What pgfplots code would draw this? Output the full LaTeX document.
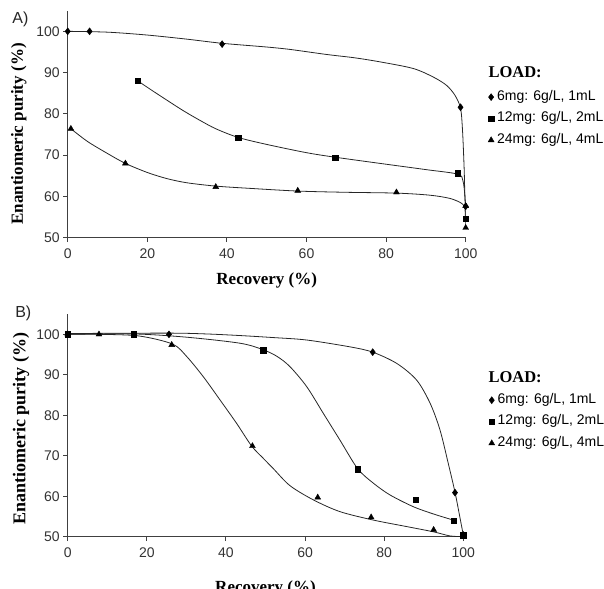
\documentclass[border=0pt]{standalone}
\usepackage{fontspec}
\setmainfont{Liberation Sans}
\newfontfamily\timesfont{Liberation Serif}
\usepackage{pgfplots}
\pgfplotsset{compat=1.18}
\pgfplotsset{
  panel/.style={
    scale only axis, xmin=0, xmax=100, ymin=50, ymax=105,
    axis lines=left, axis line style={-, line width=1.1pt, black!75},
    xtick={0,20,...,100}, ytick={50,60,...,100},
    tick align=outside, major tick length=4.5pt,
    tick style={line width=1pt, black!75},
    ticklabel style={font=\fontsize{14}{16}\selectfont, text=black!80},
    xticklabel style={yshift=-3pt},
    /pgf/number format/assume math mode=true,
    xlabel={\timesfont\bfseries Recovery (\%)},
    ylabel={\timesfont\bfseries Enantiomeric purity (\%)},
    clip mode=individual,
    legend style={draw=none, fill=none, inner sep=0pt, row sep=7.5pt, column sep=3pt,
      font=\fontsize{14}{16}\selectfont,
      nodes={inner sep=0pt, text height=10pt, text depth=4pt}},
    legend cell align=left,
    legend image code/.code={\draw[#1] plot coordinates {(0pt,0pt)};},
  },
  curve/.style={smooth, tension=0.5, black!85, line width=0.8pt, forget plot, no markers},
  dia/.style={only marks, mark=diamond*, mark size=3.5pt, black},
  sq/.style={only marks, mark=square*, mark size=2.7pt, black},
  tri/.style={only marks, mark=triangle*, mark size=3.4pt, black},
}
\begin{document}
\begin{tikzpicture}
\useasboundingbox (0pt,0pt) rectangle (604pt,-588pt);
% Panel A
\begin{axis}[panel, at={(67.7pt,-237.7pt)}, anchor=south west, width=398pt, height=227pt,
  xlabel style={at={(axis description cs:0.5,0)}, anchor=center, yshift=-42.3pt, font=\fontsize{17}{20}\selectfont},
  ylabel style={at={(axis description cs:-0.123,0.457)}, anchor=center, font=\fontsize{17}{20}\selectfont},
  legend style={at={(1.056,0.651)}, anchor=north west}]
\addplot[curve] coordinates {(0,100)(10,99.8)(20,99.1)(30,98.1)(38.8,97.1)(50,96.2)(56,95.6)(65,94.4)(72,93.6)(78.5,92.6)(86.8,91)(91.9,88.9)(95.2,86.9)(97.3,84.5)(98.7,81.4)(99.2,76)(99.6,67)(99.8,60)(100,57.6)};
\addplot[curve] coordinates {(17.6,88)(21,85.8)(24.8,83.4)(29,80.8)(33.1,78.5)(37.2,76.4)(42.8,74.3)(50,72.6)(60,70.6)(67.2,69.5)(78.5,68)(90,66.5)(98,65.4)(99.3,63.8)(99.8,60)(100,54.6)};
\addplot[curve] coordinates {(0.8,76.4)(5,73.3)(10,70.4)(14.5,68)(20,65.8)(25,64.3)(30,63.3)(37.2,62.5)(45,62)(57.8,61.3)(70,61)(82.7,60.8)(91,60.3)(96.1,59.5)(99,58.3)(99.8,57)(100,52.4)};
\addplot[dia] coordinates {(0,100)(5.5,100)(38.8,96.9)(98.7,81.6)(100,57.6)};
\addlegendentry{6mg: 6g/L, 1mL}
\addplot[sq] coordinates {(17.6,88)(42.8,74.2)(67.2,69.4)(98,65.6)(100,54.6)};
\addlegendentry{12mg: 6g/L, 2mL}
\addplot[tri] coordinates {(0.8,76.4)(14.5,68)(37.2,62.3)(57.8,61.4)(82.6,61)(100,57.7)(100,52.4)};
\addlegendentry{24mg: 6g/L, 4mL}
\end{axis}
% Panel B
\begin{axis}[panel, at={(67.7pt,-536.7pt)}, anchor=south west, width=395.6pt, height=222.6pt,
  xlabel style={at={(axis description cs:0.5,0)}, anchor=center, yshift=-51.7pt, font=\fontsize{17}{20}\selectfont},
  ylabel style={at={(axis description cs:-0.118,0.484)}, anchor=center, font=\fontsize{18}{21}\selectfont},
  legend style={at={(1.064,0.6455)}, anchor=north west}]
\addplot[curve] coordinates {(0,100.2)(25.6,100.3)(35,100.1)(43.6,99.7)(52,99.2)(60.4,98.6)(71.4,96.9)(77.1,95.6)(83.2,92.8)(88.2,88.7)(91.6,83)(94.1,76.4)(96.2,68.1)(97.9,61)(99,55.5)(100,50.4)};
\addplot[curve] coordinates {(0,100)(16.7,100.1)(30,99.3)(43.6,97.8)(49.4,96.2)(53,94.5)(56.2,92)(60.4,87.1)(64.6,80.5)(68.8,73.9)(73.3,66.8)(77.3,63.2)(81.5,60.3)(87.4,57.4)(92.5,55.6)(97.5,54.1)};
\addplot[curve] coordinates {(0,100)(7.9,100)(18,99.6)(26.5,97.6)(30.1,94.5)(34.3,89.5)(38.5,83.8)(42.7,78)(46.5,72.4)(49.4,69.4)(52,66.8)(56.2,62.6)(62.1,59.1)(68.8,56.2)(77.3,54.1)(85.7,52.5)(92.5,51.2)(96.6,50.2)(100,50)};
\addplot[dia] coordinates {(0,100)(25.6,100)(77.1,95.6)(97.9,60.9)(100,50.4)};
\addlegendentry{6mg: 6g/L, 1mL}
\addplot[sq] coordinates {(0,100)(16.7,100)(49.4,96.1)(73.3,66.7)(87.9,59.1)(97.5,54)(100,50.4)};
\addlegendentry{12mg: 6g/L, 2mL}
\addplot[tri] coordinates {(0,100)(7.9,100)(26.3,97.4)(46.7,72.4)(63.2,59.7)(76.7,54.8)(92.5,51.7)(100,50.4)};
\addlegendentry{24mg: 6g/L, 4mL}
\end{axis}
\node[anchor=center, font=\fontsize{16}{18}\selectfont, text=black!85] at (20.5pt,-19pt) {A)};
\node[anchor=center, font=\fontsize{16}{18}\selectfont, text=black!85] at (23.3pt,-313pt) {B)};
\node[anchor=west, inner sep=0pt, font=\timesfont\bfseries\fontsize{16.5}{19}\selectfont] at (488.3pt,-72.5pt) {LOAD:};
\node[anchor=west, inner sep=0pt, font=\timesfont\bfseries\fontsize{16.5}{19}\selectfont] at (488.3pt,-377.5pt) {LOAD:};
\end{tikzpicture}
\end{document}
